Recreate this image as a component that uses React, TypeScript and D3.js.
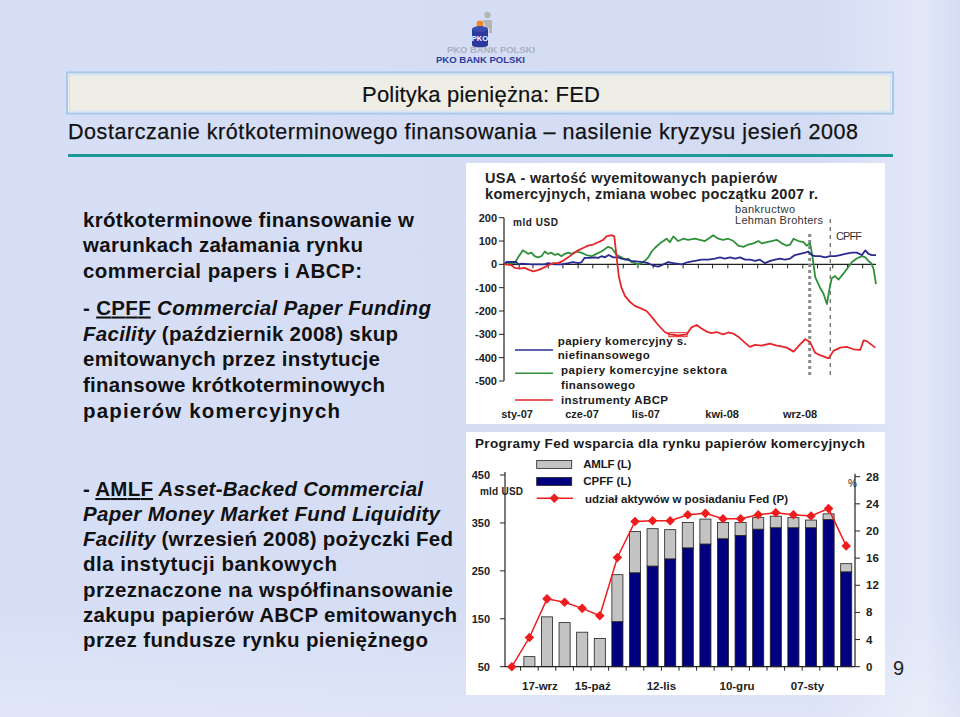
import React, { useEffect } from "react";
import * as d3 from "d3";

const FONT = "'Liberation Sans', Arial, Helvetica, sans-serif";

// ---------------- Slide text ----------------
const slideTitle = "Polityka pieniężna: FED";
const slideSubtitle = "Dostarczanie krótkoterminowego finansowania – nasilenie kryzysu jesień 2008";
const pageNumber = "9";

type Seg = [string, string]; // [text, style] style: b | bi | bu
const block1: Seg[][] = [
  [["krótkoterminowe finansowanie w", "b"]],
  [["warunkach załamania rynku", "b"]],
  [["commercial papers i ABCP:", "b"]],
  [["- ", "b"], ["CPFF", "bu"], [" Commercial Paper Funding", "bi"]],
  [["Facility", "bi"], [" (październik 2008) skup", "b"]],
  [["emitowanych przez instytucje", "b"]],
  [["finansowe krótkoterminowych", "b"]],
  [["papierów komercyjnych", "b"]],
];
const block1Ends = [414, 363, 362, 431, 398, 380, 385, 340];
const block1Base = [226.5, 252, 277.5, 314.5, 340.5, 366, 391.5, 417.5];

const block2: Seg[][] = [
  [["- ", "b"], ["AMLF", "bu"], [" Asset-Backed Commercial", "bi"]],
  [["Paper Money Market Fund Liquidity", "bi"]],
  [["Facility", "bi"], [" (wrzesień 2008) pożyczki Fed", "b"]],
  [["dla instytucji bankowych", "b"]],
  [["przeznaczone na współfinansowanie", "b"]],
  [["zakupu papierów ABCP emitowanych", "b"]],
  [["przez fundusze rynku pieniężnego", "b"]],
];
const block2Ends = [423, 440, 453, 337, 453, 457, 428];
const block2Base = [496, 521, 546, 571, 596.5, 621.5, 646.5];

// ---------------- Top chart data (weeks since 1 Jan 2007, bn USD) ----------------
const topTitle = ["USA - wartość wyemitowanych papierów", "komercyjnych, zmiana wobec początku 2007 r."];
const topYTicks = [200, 100, 0, -100, -200, -300, -400, -500];
const topXLabels = ["sty-07", "cze-07", "lis-07", "kwi-08", "wrz-08"];
const topXLabelWeeks = [3.8, 22.7, 41.3, 63.5, 86.2];

const nonFinancialCP: [number, number][] = [
  [0, 0], [0.7, 10], [2.1, 10], [3.6, 10], [4.1, 0], [5.1, 3], [8.0, 0], [11.9, 0], [12.8, 5], [14.8, 0],
  [16.7, 0], [18.7, 5], [20.1, 10], [21.6, 5], [22.5, 8], [23.5, 28], [25.0, 28], [26.4, 30], [27.4, 28],
  [28.4, 35], [29.3, 30], [30.5, 40], [31.8, 30], [33.2, 30], [34.2, 25], [35.7, 20], [37.1, 15], [39.1, 12],
  [40.5, 10], [42.0, 5], [43.4, -5], [44.9, -10], [46.4, 0], [47.8, 10], [49.3, 5], [51.7, 0], [53.6, 10],
  [55.6, 15], [57.5, 20], [59.5, 20], [61.4, 25], [62.9, 30], [64.3, 25], [65.8, 30], [67.3, 25], [68.7, 30],
  [70.2, 20], [71.6, 20], [73.1, 15], [74.5, 20], [76.0, 5], [77.5, 15], [78.9, 20], [80.4, 25], [81.8, 20],
  [83.3, 25], [84.7, 40], [86.2, 45], [87.7, 50], [88.6, 55], [89.6, 40], [90.6, 35], [92.0, 35], [93.5, 30],
  [94.9, 35], [96.4, 35], [97.9, 40], [99.3, 45], [101.3, 50], [102.7, 50], [104.2, 40], [105.2, 60],
  [106.1, 45], [107.1, 40], [108.3, 40],
];

const financialCP: [number, number][] = [
  [0, 0], [2.1, 5], [3.1, 5], [4.1, 30], [5.5, 60], [7.0, 45], [8.0, 50], [8.9, 35], [9.9, 30], [10.9, 35],
  [11.9, 55], [12.8, 45], [13.8, 50], [14.8, 40], [15.7, 45], [16.7, 35], [17.7, 45], [18.7, 50], [19.6, 45],
  [21.1, 55], [22.5, 50], [24.0, 40], [25.5, 35], [26.9, 45], [28.4, 55], [29.3, 65], [30.3, 75], [31.3, 70],
  [32.1, 55], [32.8, 40], [34.2, 30], [35.2, 20], [36.2, 25], [37.1, 10], [38.1, 5], [39.1, 0], [40.0, 5],
  [41.0, 15], [42.0, 30], [43.0, 55], [43.9, 70], [45.4, 90], [46.4, 100], [47.3, 110], [48.3, 95],
  [49.3, 120], [50.7, 100], [52.2, 110], [53.6, 105], [55.6, 110], [57.0, 105], [58.5, 100], [60.0, 115],
  [60.9, 125], [62.4, 110], [63.8, 105], [65.3, 110], [66.8, 100], [68.2, 80], [69.7, 75], [71.1, 85],
  [72.6, 90], [74.1, 100], [75.0, 90], [76.5, 95], [77.9, 100], [79.4, 105], [80.9, 90], [82.3, 80],
  [83.3, 85], [84.3, 110], [85.7, 100], [87.2, 95], [88.1, 80], [89.1, 90], [89.8, 35], [90.6, -55],
  [92.0, -100], [93.0, -125], [94.0, -170], [94.7, -110], [95.4, -60], [96.4, -50], [97.4, -65], [98.8, -40],
  [100.3, -10], [101.3, 10], [102.7, 25], [104.2, 35], [105.2, 30], [106.1, 15], [106.9, 5], [107.6, -20],
  [108.3, -85],
];

const abcp: [number, number][] = [
  [0, 0], [2.1, -3], [3.1, -15], [4.6, -18], [6.0, -15], [7.5, -25], [8.5, -30], [9.9, -25], [11.4, -15],
  [12.8, -5], [14.3, 5], [15.7, 5], [17.2, 15], [18.7, 30], [20.1, 45], [21.6, 60], [23.0, 70], [24.5, 80],
  [25.9, 85], [27.4, 95], [28.9, 105], [29.8, 120], [31.3, 125], [32.1, 120], [32.8, 30], [33.4, -50],
  [34.2, -100], [35.2, -135], [36.6, -160], [38.1, -178], [40.0, -190], [41.5, -200], [43.0, -225],
  [44.9, -260], [46.8, -290], [48.3, -300], [50.7, -305], [53.2, -300], [54.6, -270], [56.1, -260],
  [57.5, -275], [59.0, -288], [60.4, -295], [61.9, -290], [63.8, -300], [65.3, -292], [66.8, -297],
  [68.2, -310], [69.7, -330], [71.6, -354], [73.1, -345], [75.0, -348], [77.4, -340], [79.4, -348],
  [80.4, -350], [82.3, -357], [84.3, -374], [86.2, -343], [87.7, -321], [89.1, -333], [90.6, -379],
  [92.0, -389], [94.5, -403], [95.9, -371], [97.9, -357], [99.8, -354], [101.7, -364], [103.7, -367],
  [104.7, -326], [105.6, -329], [108.1, -357],
];
const abcpMarker = { w0: 48.0, w1: 53.3, v0: -293, v1: -310 };

const topLegend = [
  { lines: ["papiery komercyjny s.", "niefinansowego"], color: "#2b2b8f" },
  { lines: ["papiery komercyjne sektora", "finansowego"], color: "#2f8f3a" },
  { lines: ["instrumenty ABCP"], color: "#e5262b" },
];
const lehmanDate = new Date(2008, 8, 15);
const cpffDate = new Date(2008, 9, 27);

// ---------------- Bottom chart data (weekly) ----------------
const bottomTitle = "Programy Fed wsparcia dla rynku papierów komercyjnych";
const weeks = ["17-wrz", "24-wrz", "01-paź", "08-paź", "15-paź", "22-paź", "29-paź", "05-lis", "12-lis", "19-lis",
  "26-lis", "03-gru", "10-gru", "17-gru", "24-gru", "31-gru", "07-sty", "14-sty", "21-sty", "28-sty"];
const cpff = [0, 0, 0, 0, 0, 0, 144, 246, 260, 275, 298, 306, 317, 324, 337, 340, 340, 340, 357, 248];
const amlf = [0, 71, 154, 142, 122, 109, 98, 86, 78, 61, 53, 52, 34, 27, 24, 24, 21, 16, 12, 17];
const fedShare = [0, 4.3, 10.0, 9.5, 8.6, 7.5, 16.1, 21.4, 21.5, 21.5, 22.4, 22.6, 21.8, 21.8, 22.4, 22.7, 22.4, 22.2, 23.3, 17.8];
const leftTicks = [450, 350, 250, 150, 50];
const rightTicks = [28, 24, 20, 16, 12, 8, 4, 0];
const bottomXLabels = ["17-wrz", "15-paź", "12-lis", "10-gru", "07-sty"];
const bottomXLabelSteps = [2.1, 5.1, 9.0, 13.3, 17.3];

function TextLine({ segs, x, y, end, size }: { segs: Seg[]; x: number; y: number; end: number; size: number }) {
  return (
    <text x={x} y={y} fontFamily={FONT} fontSize={size} fill="#111" textLength={end - x} lengthAdjust="spacing">
      {segs.map((s, i) => (
        <tspan key={i} fontWeight="bold" fontStyle={s[1] === "bi" ? "italic" : "normal"}
          textDecoration={s[1] === "bu" ? "underline" : undefined}>{s[0]}</tspan>
      ))}
    </text>
  );
}

function TopChart() {
  const T0 = new Date(2007, 0, 1);
  const weekOf = (d: Date) => d3.timeDay.count(T0, d) / 7;
  const x = d3.scaleLinear().domain([0, 108.3]).range([504, 876]);
  const y = d3.scaleLinear().domain([-500, 200]).range([381, 217.7]);
  const line = d3.line<[number, number]>().x(d => x(d[0])).y(d => y(d[1]));
  const monthTicks = d3.timeMonth.range(new Date(2007, 1, 1), new Date(2009, 1, 1)).map(weekOf);
  const lw = weekOf(lehmanDate);
  const cw = weekOf(cpffDate);
  const series: [[number, number][], string][] = [
    [financialCP, topLegend[1].color],
    [nonFinancialCP, topLegend[0].color],
    [abcp, topLegend[2].color],
  ];
  return (
    <g fontFamily={FONT}>
      <rect x={466} y={163} width={419} height={261} fill="#fff" />
      <text x={485} y={183} fontSize={14.5} fontWeight="bold" fill="#222" textLength={292} lengthAdjust="spacing">{topTitle[0]}</text>
      <text x={485} y={199} fontSize={14.5} fontWeight="bold" fill="#222" textLength={333} lengthAdjust="spacing">{topTitle[1]}</text>
      <text x={513} y={226} fontSize={10} fontWeight="bold" fill="#222" textLength={45} lengthAdjust="spacing">mld USD</text>
      {/* y axis */}
      <line x1={x(0)} x2={x(0)} y1={y(200)} y2={y(-500)} stroke="#222" strokeWidth={1.2} />
      {topYTicks.map(t => (
        <g key={t}>
          <line x1={x(0) - 5} x2={x(0)} y1={y(t)} y2={y(t)} stroke="#222" strokeWidth={1} />
          <text x={497} y={y(t) + 4} fontSize={11} fontWeight="bold" fill="#222" textAnchor="end">{t}</text>
        </g>
      ))}
      {/* x axis at zero */}
      <line x1={x(0)} x2={x(108.3)} y1={y(0)} y2={y(0)} stroke="#222" strokeWidth={1.2} />
      {monthTicks.map((w, i) => (
        <line key={i} x1={x(w)} x2={x(w)} y1={y(0)} y2={y(0) + 4} stroke="#222" strokeWidth={1} />
      ))}
      {topXLabels.map((l, i) => (
        <text key={l} x={x(topXLabelWeeks[i])} y={418} fontSize={11} fontWeight="bold" fill="#222" textAnchor="middle">{l}</text>
      ))}
      {/* event lines */}
      <line x1={x(lw)} x2={x(lw)} y1={y(130)} y2={y(-487)} stroke="#8a8a8a" strokeWidth={3} strokeDasharray="3,3" />
      <line x1={x(cw)} x2={x(cw)} y1={y(194)} y2={y(-487)} stroke="#7a7a7a" strokeWidth={1.4} strokeDasharray="4,4" />
      <text x={735} y={213} fontSize={11} fill="#333" textLength={60} lengthAdjust="spacing">bankructwo</text>
      <text x={735} y={224} fontSize={11} fill="#333" textLength={88} lengthAdjust="spacing">Lehman Brohters</text>
      <text x={836} y={240} fontSize={11} fill="#333" textLength={26} lengthAdjust="spacing">CPFF</text>
      {/* series */}
      {series.map(([d, c], i) => (
        <path key={i} d={line(d) || ""} fill="none" stroke={c} strokeWidth={1.8} strokeLinejoin="round" />
      ))}
      <rect x={x(abcpMarker.w0)} y={y(abcpMarker.v0)} width={x(abcpMarker.w1) - x(abcpMarker.w0)}
        height={y(abcpMarker.v1) - y(abcpMarker.v0)} fill="none" stroke="#e5262b" strokeWidth={1} />
      {/* legend */}
      <line x1={515} x2={553} y1={350} y2={350} stroke={topLegend[0].color} strokeWidth={1.5} />
      <line x1={515} x2={553} y1={373.3} y2={373.3} stroke={topLegend[1].color} strokeWidth={1.5} />
      <line x1={515} x2={553} y1={400} y2={400} stroke={topLegend[2].color} strokeWidth={1.5} />
      <text x={557.7} y={345} fontSize={11.5} fontWeight="bold" fill="#1a1a1a" textLength={129} lengthAdjust="spacing">{topLegend[0].lines[0]}</text>
      <text x={557.7} y={358.5} fontSize={11.5} fontWeight="bold" fill="#1a1a1a" textLength={92} lengthAdjust="spacing">{topLegend[0].lines[1]}</text>
      <text x={561} y={374} fontSize={11.5} fontWeight="bold" fill="#1a1a1a" textLength={166} lengthAdjust="spacing">{topLegend[1].lines[0]}</text>
      <text x={561} y={388.5} fontSize={11.5} fontWeight="bold" fill="#1a1a1a" textLength={74} lengthAdjust="spacing">{topLegend[1].lines[1]}</text>
      <text x={561} y={404.3} fontSize={11.5} fontWeight="bold" fill="#1a1a1a" textLength={107} lengthAdjust="spacing">{topLegend[2].lines[0]}</text>
    </g>
  );
}

function BottomChart() {
  const x = d3.scaleBand<string>().domain(weeks).range([503, 855]).paddingInner(0.37).paddingOuter(0.185);
  const yl = d3.scaleLinear().domain([50, 450]).range([666.7, 475]);
  const yr = d3.scaleLinear().domain([0, 28]).range([666.7, 476.7]);
  const rows = weeks.map((w, i) => ({ w, cpff: cpff[i], amlf: amlf[i] }));
  const stack = d3.stack<any>().keys(["cpff", "amlf"])(rows);
  const fills: Record<string, string> = { cpff: "#000080", amlf: "#c3c3c3" };
  const line = d3.line<number>().x((_, i) => (x(weeks[i]) as number) + x.bandwidth() / 2).y(d => yr(d));
  const diamond = d3.symbol(d3.symbolSquare, 46)() || "";
  const step = x.step();
  const x0 = 503;
  return (
    <g fontFamily={FONT}>
      <rect x={466} y={432} width={419} height={263} fill="#fff" />
      <text x={475} y={448} fontSize={13.5} fontWeight="bold" fill="#1a1a1a" textLength={390} lengthAdjust="spacing">{bottomTitle}</text>
      {/* bars */}
      {stack.map(layer => layer.map((d, i) => {
        const v0 = Math.max(d[0], 50);
        const v1 = d[1];
        if (v1 <= v0) return null;
        return (
          <rect key={layer.key + i} x={x(weeks[i])} width={x.bandwidth()} y={yl(v1)} height={yl(v0) - yl(v1)}
            fill={fills[layer.key]} stroke="#222" strokeWidth={0.8} />
        );
      }))}
      {/* axes */}
      <line x1={505} x2={505} y1={yl(450) - 3} y2={yl(50)} stroke="#222" strokeWidth={1.2} />
      {leftTicks.map(t => (
        <g key={t}>
          <line x1={500} x2={505} y1={yl(t)} y2={yl(t)} stroke="#222" />
          <text x={490} y={yl(t) + 4} fontSize={11} fontWeight="bold" fill="#222" textAnchor="end">{t}</text>
        </g>
      ))}
      <line x1={855} x2={855} y1={yr(28) - 3} y2={yr(0)} stroke="#222" strokeWidth={1.2} />
      {rightTicks.map(t => (
        <g key={t}>
          <line x1={855} x2={860} y1={yr(t)} y2={yr(t)} stroke="#222" />
          <text x={866} y={yr(t) + 4} fontSize={11.5} fontWeight="bold" fill="#222">{t}</text>
        </g>
      ))}
      <line x1={505} x2={855} y1={yl(50)} y2={yl(50)} stroke="#222" strokeWidth={1.2} />
      {weeks.slice(1).map((w, i) => (
        <line key={w} x1={x0 + (i + 1) * step} x2={x0 + (i + 1) * step} y1={yl(50)} y2={yl(50) + 4} stroke="#222" />
      ))}
      {bottomXLabels.map((l, i) => (
        <text key={l} x={x0 + bottomXLabelSteps[i] * step} y={690} fontSize={11.5} fontWeight="bold" fill="#222" textAnchor="middle">{l}</text>
      ))}
      <text x={480} y={495} fontSize={10} fontWeight="bold" fill="#222" textLength={43} lengthAdjust="spacing">mld USD</text>
      <text x={848} y={487} fontSize={10} fill="#222">%</text>
      {/* share line */}
      <path d={line(fedShare) || ""} fill="none" stroke="#ee1c1c" strokeWidth={1.5} />
      {fedShare.map((v, i) => (
        <path key={i} d={diamond} fill="#ee1c1c"
          transform={`translate(${(x(weeks[i]) as number) + x.bandwidth() / 2},${yr(v)}) rotate(45)`} />
      ))}
      {/* legend */}
      <rect x={536.7} y={460.5} width={35} height={8} fill={fills.amlf} stroke="#222" strokeWidth={0.8} />
      <rect x={536.7} y={477.5} width={35} height={8} fill={fills.cpff} stroke="#222" strokeWidth={0.8} />
      <line x1={536.7} x2={573} y1={498.3} y2={498.3} stroke="#ee1c1c" strokeWidth={1.5} />
      <path d={diamond} fill="#ee1c1c" transform="translate(554.3,498.3) rotate(45)" />
      <text x={583.3} y={468.3} fontSize={11.5} fontWeight="bold" fill="#1a1a1a" textLength={48} lengthAdjust="spacing">AMLF (L)</text>
      <text x={583.3} y={485.3} fontSize={11.5} fontWeight="bold" fill="#1a1a1a" textLength={48} lengthAdjust="spacing">CPFF (L)</text>
      <text x={585} y={502.5} fontSize={11.5} fontWeight="bold" fill="#1a1a1a" textLength={203} lengthAdjust="spacing">udział aktywów w posiadaniu Fed (P)</text>
    </g>
  );
}

function Logo() {
  return (
    <g fontFamily={FONT}>
      <circle cx={487.5} cy={15} r={3.2} fill="#b5b5b5" />
      <path d="M483,20 h9 v13 h-3 v-5 h-3 z" fill="#b5b5b5" />
      <circle cx={480} cy={24} r={3.4} fill="#f08a24" />
      <rect x={472} y={29} width={16} height={16} fill="#2b3a9c" />
      <ellipse cx={480} cy={29} rx={8} ry={3} fill="#3c4db0" />
      <ellipse cx={480} cy={45} rx={8} ry={2.5} fill="#2b3a9c" />
      <text x={480} y={41} fontSize={7.5} fontWeight="bold" fill="#fff" textAnchor="middle">PKO</text>
      <text x={447} y={53} fontSize={8.5} fontWeight="bold" fill="#aab0bf" textLength={88} lengthAdjust="spacingAndGlyphs">PKO BANK POLSKI</text>
      <text x={436} y={63} fontSize={9} fontWeight="bold" fill="#2b3a9c" textLength={89} lengthAdjust="spacingAndGlyphs">PKO BANK POLSKI</text>
    </g>
  );
}

export default function App() {
  useEffect(() => {
    document.body.style.margin = "0";
  }, []);
  return (
    <svg width={960} height={717} viewBox="0 0 960 717" style={{ position: "absolute", left: 0, top: 0, display: "block" }}>
      <defs>
        <linearGradient id="bgGrad" x1="0" y1="0" x2="1" y2="0">
          <stop offset="0" stopColor="#d7dff6" />
          <stop offset="0.85" stopColor="#d4dcf4" />
          <stop offset="0.96" stopColor="#e2e8f8" />
          <stop offset="1" stopColor="#d5ddf4" />
        </linearGradient>
        <linearGradient id="bgGradV" x1="0" y1="0" x2="0" y2="1">
          <stop offset="0.85" stopColor="#ffffff" stopOpacity={0} />
          <stop offset="1" stopColor="#ffffff" stopOpacity={0.25} />
        </linearGradient>
      </defs>
      <rect x={0} y={0} width={960} height={717} fill="url(#bgGrad)" />
      <rect x={0} y={0} width={960} height={717} fill="url(#bgGradV)" />
      <Logo />
      {/* title box */}
      <rect x={67} y={72.5} width={826} height={41} fill="#eeeee6" stroke="#a6c8ef" strokeWidth={2} />
      <rect x={69.5} y={75} width={821} height={36} fill="none" stroke="#cfe0f5" strokeWidth={1} />
      <text x={481} y={102} fontFamily={FONT} fontSize={22} fill="#111" stroke="#111" strokeWidth={0.2} textAnchor="middle" textLength={238} lengthAdjust="spacing">{slideTitle}</text>
      <text x={68} y={138.5} fontFamily={FONT} fontSize={21.5} fill="#111" stroke="#111" strokeWidth={0.25} textLength={790} lengthAdjust="spacing">{slideSubtitle}</text>
      <rect x={68} y={154} width={825} height={3} fill="#1e9896" />
      {block1.map((segs, i) => (
        <TextLine key={"a" + i} segs={segs} x={83} y={block1Base[i]} end={block1Ends[i]} size={20.5} />
      ))}
      {block2.map((segs, i) => (
        <TextLine key={"b" + i} segs={segs} x={83} y={block2Base[i]} end={block2Ends[i]} size={20.5} />
      ))}
      <TopChart />
      <BottomChart />
      <text x={893} y={675} fontFamily={FONT} fontSize={20} fill="#222">{pageNumber}</text>
    </svg>
  );
}
